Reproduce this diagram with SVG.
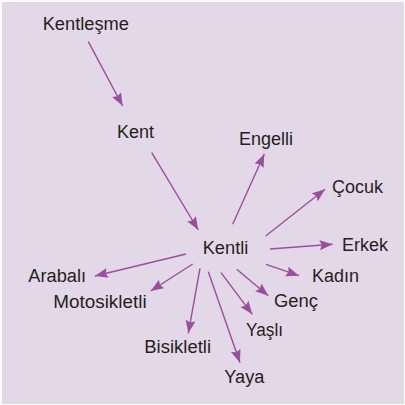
<svg xmlns="http://www.w3.org/2000/svg" width="405" height="405" viewBox="0 0 405 405">
<style>
text{font-family:"Liberation Sans",Arial,sans-serif;font-size:18px;fill:#231f20}
.c line{stroke:#9a4f9c;stroke-width:1.4;marker-end:url(#ah)}
</style>
<defs>
<marker id="ah" markerUnits="userSpaceOnUse" markerWidth="14" markerHeight="11" refX="13" refY="5" orient="auto">
<path d="M0,0 L13,5 L0,10 L2,5 z" fill="#9a4f9c"/>
</marker>
</defs>
<rect x="2" y="2" width="402" height="402" fill="#e3d8e8"/>
<g class="c" id="connectors">
<line x1="88.3" y1="41.7" x2="122.7" y2="106"/>
<line x1="151.7" y1="152.7" x2="198.3" y2="230"/>
<line x1="232.7" y1="224.3" x2="264.3" y2="154"/>
<line x1="265.7" y1="236" x2="325" y2="189.3"/>
<line x1="270" y1="249" x2="332.7" y2="244.3"/>
<line x1="266" y1="264.3" x2="299" y2="275.7"/>
<line x1="236.7" y1="269.3" x2="268.3" y2="295.7"/>
<line x1="221" y1="272.7" x2="252.3" y2="314.3"/>
<line x1="208.3" y1="271.7" x2="240" y2="362.7"/>
<line x1="200" y1="268.3" x2="188.3" y2="333.3"/>
<line x1="192.7" y1="264" x2="150.7" y2="291"/>
<line x1="186" y1="254" x2="95" y2="276"/>
</g>
<g id="kentlesme"><text x="42.7" y="29.5" textLength="86.3" lengthAdjust="spacingAndGlyphs">Kentleşme</text></g>
<g id="kent"><text x="117" y="137.7" textLength="37" lengthAdjust="spacingAndGlyphs">Kent</text></g>
<g id="engelli"><text x="239" y="145" textLength="54" lengthAdjust="spacingAndGlyphs">Engelli</text></g>
<g id="cocuk"><text x="332" y="192.7" textLength="51" lengthAdjust="spacingAndGlyphs">Çocuk</text></g>
<g id="kentli"><text x="202.7" y="254" textLength="45.7" lengthAdjust="spacingAndGlyphs">Kentli</text></g>
<g id="erkek"><text x="342" y="250.7" textLength="46" lengthAdjust="spacingAndGlyphs">Erkek</text></g>
<g id="kadin"><text x="312" y="281.7" textLength="47" lengthAdjust="spacingAndGlyphs">Kadın</text></g>
<g id="arabali"><text x="28.3" y="281.7" textLength="57.7" lengthAdjust="spacingAndGlyphs">Arabalı</text></g>
<g id="genc"><text x="274" y="307" textLength="44" lengthAdjust="spacingAndGlyphs">Genç</text></g>
<g id="motosikletli"><text x="53.3" y="308" textLength="93.3" lengthAdjust="spacingAndGlyphs">Motosikletli</text></g>
<g id="yasli"><text x="246" y="336" textLength="37" lengthAdjust="spacingAndGlyphs">Yaşlı</text></g>
<g id="bisikletli"><text x="144.3" y="353" textLength="66.7" lengthAdjust="spacingAndGlyphs">Bisikletli</text></g>
<g id="yaya"><text x="224.3" y="383" textLength="40" lengthAdjust="spacingAndGlyphs">Yaya</text></g>
</svg>
